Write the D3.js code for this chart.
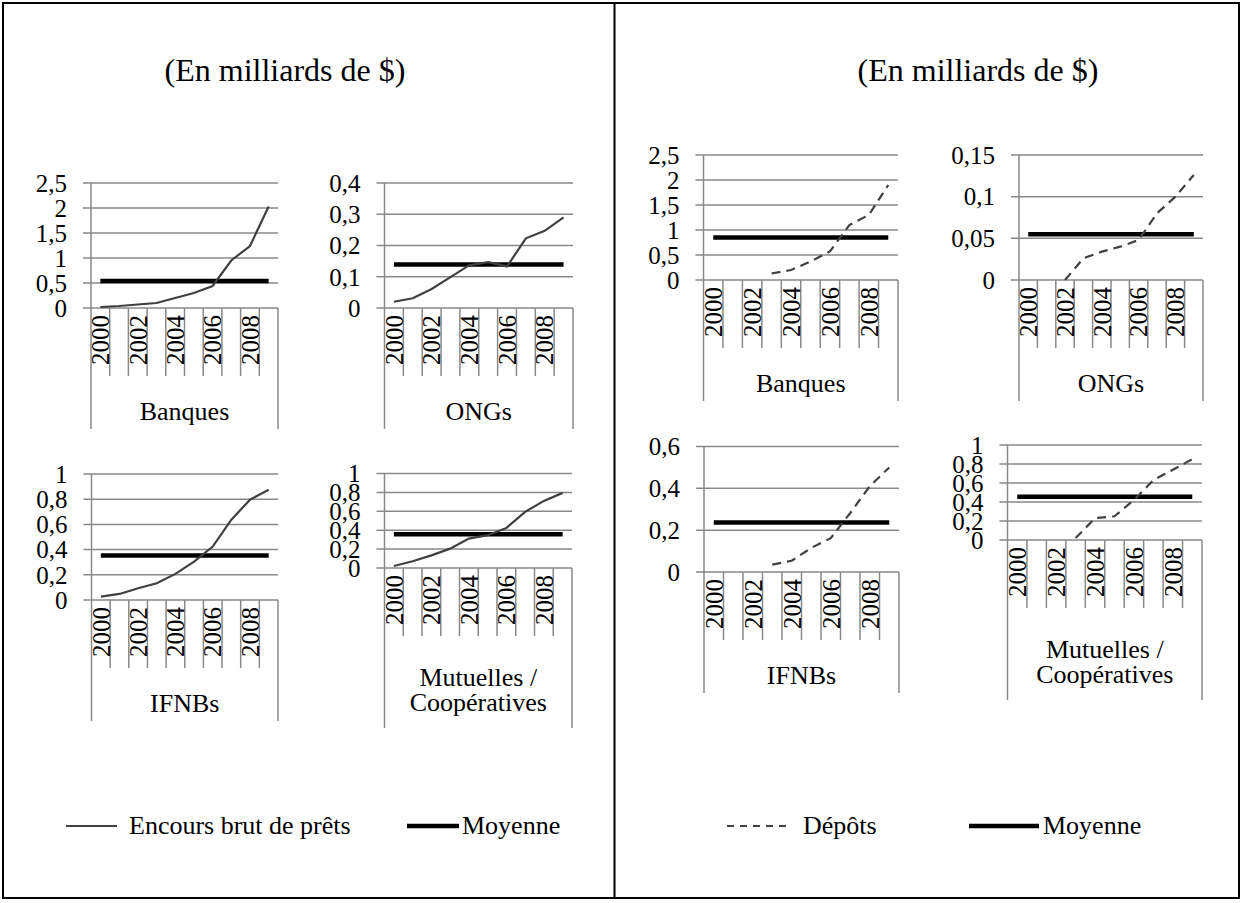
<!DOCTYPE html>
<html><head><meta charset="utf-8">
<script src="https://cdn.jsdelivr.net/npm/d3@7"></script>
<style>
html,body{margin:0;padding:0;background:#fff;}
</style></head>
<body><svg id="c" width="1243" height="903" font-family="'Liberation Serif', Tinos, 'Times New Roman', 'DejaVu Serif', serif"></svg>
<script>
// ---------- DATA ----------
const years = [2000,2001,2002,2003,2004,2005,2006,2007,2008,2009];
const yearLabels = ["2000","2002","2004","2006","2008"];
const groups = ["Banques","ONGs","IFNBs","Mutuelles / Coopératives"];
const title = "(En milliards de $)";

// Encours brut de prêts (left chart)
const encoursBanques   = [0.02,0.04,0.07,0.10,0.20,0.30,0.44,0.95,1.24,2.03];
const encoursONGs      = [0.020,0.031,0.061,0.099,0.137,0.147,0.133,0.223,0.247,0.290];
const encoursIFNBs     = [0.027,0.048,0.093,0.133,0.207,0.305,0.424,0.637,0.796,0.875];
const encoursMutuelles = [0.021,0.071,0.134,0.205,0.311,0.346,0.424,0.594,0.710,0.795];
const moyenneEncours   = [0.54,0.139,0.354,0.357];

// Dépôts (right chart)
const depotsBanques   = [null,null,null,0.13,0.20,0.37,0.57,1.10,1.30,1.90];
const depotsONGs      = [null,null,0.000,0.026,0.034,0.040,0.048,0.080,0.100,0.126];
const depotsIFNBs     = [null,null,null,0.035,0.054,0.115,0.162,0.282,0.410,0.500];
const depotsMutuelles = [null,null,null,0.02,0.23,0.25,0.42,0.63,0.74,0.85];
const moyenneDepots   = [0.85,0.055,0.237,0.456];

// Y tick values
const ticksEncours = [[0,0.5,1,1.5,2,2.5],[0,0.1,0.2,0.3,0.4],[0,0.2,0.4,0.6,0.8,1],[0,0.2,0.4,0.6,0.8,1]];
const ticksDepots  = [[0,0.5,1,1.5,2,2.5],[0,0.05,0.1,0.15],[0,0.2,0.4,0.6],[0,0.2,0.4,0.6,0.8,1]];

const legendEncours = ["Encours brut de prêts","Moyenne"];
const legendDepots  = ["Dépôts","Moyenne"];

// ---------- LAYOUT ----------
const svg = d3.select("#c");
const fr = d3.formatLocale({decimal:",",thousands:" ",grouping:[3],currency:["","$"]});
const fmt = v => fr.format("~g")(+v.toFixed(4));
const GRID = "#898989";
const LINE = "#404040";

svg.append("rect").attr("width",1243).attr("height",903).attr("fill","#fff");
// frames
svg.append("rect").attr("x",3).attr("y",3).attr("width",1236).attr("height",895)
  .attr("fill","none").attr("stroke","#000").attr("stroke-width",2);
svg.append("line").attr("x1",614.5).attr("x2",614.5).attr("y1",3).attr("y2",898)
  .attr("stroke","#000").attr("stroke-width",2);

svg.append("text").attr("x",285).attr("y",81).attr("text-anchor","middle").attr("font-size",32).text(title);
svg.append("text").attr("x",978).attr("y",81).attr("text-anchor","middle").attr("font-size",32).text(title);

const leftPanels = [
  {x0:91, x1:278, yT:183, y0:308},
  {x0:384.5, x1:573, yT:183, y0:308},
  {x0:91.5, x1:278, yT:474, y0:600},
  {x0:384.5, x1:572, yT:473.5, y0:568}
];
const rightPanels = [
  {x0:703.5, x1:898, yT:155, y0:280},
  {x0:1019, x1:1203, yT:155, y0:280},
  {x0:704, x1:899, yT:446.5, y0:572},
  {x0:1007.5, x1:1202, yT:445, y0:540}
];

function panel(p, values, mean, ticks, groupName, dashed){
  const g = svg.append("g");
  const x = d3.scaleBand().domain(years).range([p.x0,p.x1]).padding(0);
  const y = d3.scaleLinear().domain([0,d3.max(ticks)]).range([p.y0,p.yT]);
  // gridlines
  g.selectAll(".grid").data(ticks).join("line")
    .attr("x1",p.x0-8).attr("x2",p.x1).attr("y1",d=>y(d)).attr("y2",d=>y(d))
    .attr("stroke",GRID).attr("stroke-width",1.5);
  // y labels
  g.selectAll(".yl").data(ticks).join("text")
    .attr("x",p.x0-24).attr("y",d=>y(d)).attr("dy","0.35em")
    .attr("text-anchor","end").attr("font-size",25).text(fmt);
  // y axis line
  g.append("line").attr("x1",p.x0).attr("x2",p.x0).attr("y1",p.yT).attr("y2",p.y0)
    .attr("stroke",GRID).attr("stroke-width",1.5);
  const twoLines = groupName.includes("/");
  const gBottom = p.y0 + (twoLines?160:121);
  // category ticks between years
  const inner = years.slice(1).map(d=>x(d));
  g.selectAll(".ct").data(inner).join("line")
    .attr("x1",d=>d).attr("x2",d=>d).attr("y1",p.y0).attr("y2",p.y0+68)
    .attr("stroke",GRID).attr("stroke-width",1.5);
  // group boundaries
  g.selectAll(".gb").data([p.x0,p.x1]).join("line")
    .attr("x1",d=>d).attr("x2",d=>d).attr("y1",p.y0).attr("y2",gBottom)
    .attr("stroke",GRID).attr("stroke-width",1.5);
  // year labels
  g.selectAll(".yr").data(yearLabels).join("text")
    .attr("transform",d=>`translate(${x(+d)+x.bandwidth()/2},${p.y0+7}) rotate(-90)`)
    .attr("dy","0.35em").attr("text-anchor","end").attr("font-size",25).text(d=>d);
  // group label
  const cx = (p.x0+p.x1)/2;
  if(twoLines){
    const parts = groupName.split(" / ");
    g.append("text").attr("x",cx).attr("y",p.y0+109).attr("dy","0.35em").attr("text-anchor","middle").attr("font-size",26).text(parts[0]+" /");
    g.append("text").attr("x",cx).attr("y",p.y0+134).attr("dy","0.35em").attr("text-anchor","middle").attr("font-size",26).text(parts[1]);
  } else {
    g.append("text").attr("x",cx).attr("y",p.y0+103).attr("dy","0.35em").attr("text-anchor","middle").attr("font-size",26).text(groupName);
  }
  const cxp = d => x(d)+x.bandwidth()/2;
  // mean
  g.append("line").attr("x1",cxp(years[0])).attr("x2",cxp(years[years.length-1]))
    .attr("y1",y(mean)).attr("y2",y(mean)).attr("stroke","#000").attr("stroke-width",4.5);
  // series
  const line = d3.line().defined(d=>d[1]!=null).x(d=>cxp(d[0])).y(d=>y(d[1]));
  g.append("path").datum(years.map((yr,i)=>[yr,values[i]])).attr("d",line)
    .attr("fill","none").attr("stroke",LINE).attr("stroke-width",2.2)
    .attr("stroke-dasharray",dashed?"9,6":null);
}

const encours = [encoursBanques,encoursONGs,encoursIFNBs,encoursMutuelles];
const depots = [depotsBanques,depotsONGs,depotsIFNBs,depotsMutuelles];
groups.forEach((gname,i)=>{
  panel(leftPanels[i], encours[i], moyenneEncours[i], ticksEncours[i], gname, false);
  panel(rightPanels[i], depots[i], moyenneDepots[i], ticksDepots[i], gname, true);
});

// legends
function legend(items, specs){
  items.forEach((t,i)=>{
    const s = specs[i];
    svg.append("line").attr("x1",s.lx1).attr("x2",s.lx2).attr("y1",826).attr("y2",826)
      .attr("stroke",s.color).attr("stroke-width",s.w).attr("stroke-dasharray",s.dash||null);
    svg.append("text").attr("x",s.tx).attr("y",826).attr("dy","0.32em").attr("font-size",26).text(t);
  });
}
legend(legendEncours,[
  {lx1:66,lx2:117,color:LINE,w:2.2,tx:129},
  {lx1:407,lx2:459,color:"#000",w:4.5,tx:462}
]);
legend(legendDepots,[
  {lx1:727,lx2:789,color:LINE,w:2.2,dash:"7,6",tx:803},
  {lx1:969,lx2:1039,color:"#000",w:4.5,tx:1043}
]);
</script></body></html>
